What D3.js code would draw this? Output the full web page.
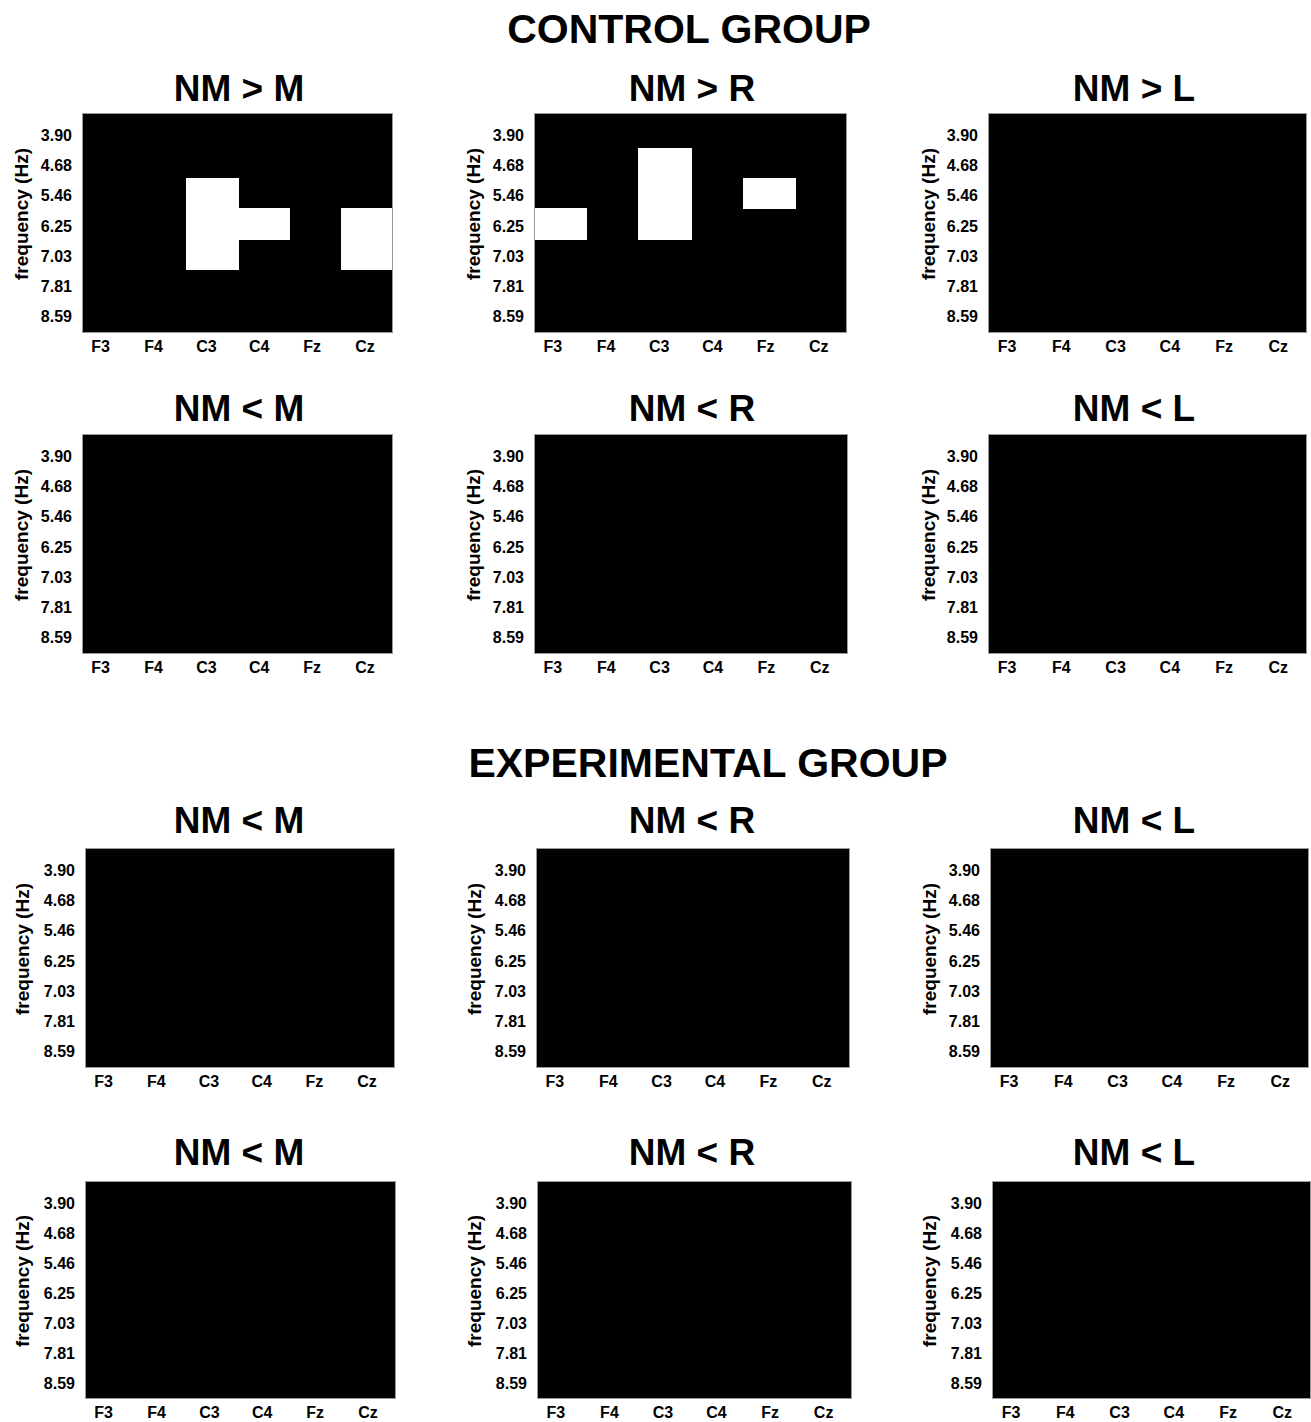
<!DOCTYPE html>
<html>
<head>
<meta charset="utf-8">
<script src="https://cdn.jsdelivr.net/npm/d3@7"></script>
<style>
  html, body { margin: 0; padding: 0; background: #fff; }
  text { font-family: "Liberation Sans", Arial, sans-serif; font-weight: bold; fill: #000; }
</style>
</head>
<body>
<svg id="chart" width="1311" height="1422"></svg>
<script>
// ---------- data ----------
const channels = ["F3", "F4", "C3", "C4", "Fz", "Cz"];
const frequencies = ["3.90", "4.68", "5.46", "6.25", "7.03", "7.81", "8.59"];
const groupTitles = ["CONTROL GROUP", "EXPERIMENTAL GROUP"];
const controlTitles = ["NM > M", "NM > R", "NM > L", "NM < M", "NM < R", "NM < L"];
const experimentalTitles = ["NM < M", "NM < R", "NM < L", "NM < M", "NM < R", "NM < L"];

// significant (white) cells: [channel, frequency]
const sigControlNMgtM = [["C3","5.46"],["C3","6.25"],["C3","7.03"],["C4","6.25"],["Cz","6.25"],["Cz","7.03"]];
const sigControlNMgtR = [["F3","6.25"],["C3","4.68"],["C3","5.46"],["C3","6.25"],["Fz","5.46"]];
const sigControlNMgtL = [];
const sigControlNMltM = [];
const sigControlNMltR = [];
const sigControlNMltL = [];
const sigExp1NMltM = [];
const sigExp1NMltR = [];
const sigExp1NMltL = [];
const sigExp2NMltM = [];
const sigExp2NMltR = [];
const sigExp2NMltL = [];

// ---------- layout ----------
const panelRows = [
  { titles: controlTitles.slice(0, 3), sig: [sigControlNMgtM, sigControlNMgtR, sigControlNMgtL],
    y0: 113, y1: 333, cols: [[82, 393], [534, 847], [988, 1307]], titleBase: 101 },
  { titles: controlTitles.slice(3, 6), sig: [sigControlNMltM, sigControlNMltR, sigControlNMltL],
    y0: 434, y1: 654, cols: [[82, 393], [534, 848], [988, 1307]], titleBase: 421 },
  { titles: experimentalTitles.slice(0, 3), sig: [sigExp1NMltM, sigExp1NMltR, sigExp1NMltL],
    y0: 848, y1: 1068, cols: [[85, 395], [536, 850], [990, 1309]], titleBase: 833 },
  { titles: experimentalTitles.slice(3, 6), sig: [sigExp2NMltM, sigExp2NMltR, sigExp2NMltL],
    y0: 1181, y1: 1399, cols: [[85, 396], [537, 852], [992, 1311]], titleBase: 1165 }
];
const titleCenters = [239, 692, 1134];
const ylabXs = [21, 473, 928];

const svg = d3.select("#chart");
const color = d3.scaleOrdinal().domain([0, 1]).range(["#000000", "#ffffff"]);

// group titles
svg.append("text").attr("x", 689).attr("y", 43).attr("text-anchor", "middle")
  .style("font-size", "41px").text(groupTitles[0]);
svg.append("text").attr("x", 708).attr("y", 777).attr("text-anchor", "middle")
  .style("font-size", "41px").text(groupTitles[1]);

panelRows.forEach(row => {
  row.cols.forEach((c, ci) => {
    const [x0, x1] = c;
    const y0 = row.y0, y1 = row.y1;
    const w = x1 - x0;
    const x = d3.scaleBand().domain(channels).range([x0, x1]);
    const y = d3.scaleBand().domain(frequencies).range([y0 + 4.5, y1 - 3.5]);
    const xl = d3.scalePoint().domain(channels).range([x0 + w * 0.06, x1 - w * 0.09]);

    const sigSet = new Set(row.sig[ci].map(d => d[0] + "|" + d[1]));
    const cells = [];
    channels.forEach(ch => frequencies.forEach(f => cells.push({ ch, f, v: sigSet.has(ch + "|" + f) ? 1 : 0 })));

    const g = svg.append("g");
    // background
    g.append("rect").attr("x", x0).attr("y", y0).attr("width", w).attr("height", y1 - y0)
      .attr("fill", "#000").attr("shape-rendering", "crispEdges");
    // cells (black first, then white on top)
    cells.sort((a, b) => a.v - b.v);
    g.selectAll("rect.cell").data(cells).enter().append("rect").attr("class", "cell")
      .attr("x", d => Math.round(x(d.ch))).attr("y", d => Math.round(y(d.f)))
      .attr("width", d => Math.round(x(d.ch) + x.bandwidth()) - Math.round(x(d.ch)) + (d.v ? 1 : 0))
      .attr("height", d => Math.round(y(d.f) + y.bandwidth()) - Math.round(y(d.f)) + (d.v ? 1 : 0))
      .attr("fill", d => color(d.v)).attr("shape-rendering", "crispEdges");
    // border
    g.append("rect").attr("x", x0 + 0.5).attr("y", y0 + 0.5).attr("width", w - 1).attr("height", y1 - y0 - 1)
      .attr("fill", "none").attr("stroke", "#9a9a9a").attr("stroke-width", 1);

    // y tick labels
    g.selectAll("text.yt").data(frequencies).enter().append("text").attr("class", "yt")
      .attr("x", x0 - 10).attr("y", d => y(d) + y.bandwidth() / 2 + 2.5)
      .attr("text-anchor", "end").attr("dominant-baseline", "central")
      .style("font-size", "16px").text(d => d);
    // x tick labels
    g.selectAll("text.xt").data(channels).enter().append("text").attr("class", "xt")
      .attr("x", d => xl(d)).attr("y", y1 + 19)
      .attr("text-anchor", "middle").style("font-size", "16px").text(d => d);
    // y axis label
    const cy = (y0 + y1) / 2 - 9;
    g.append("text").attr("transform", `translate(${ylabXs[ci] + (row.y0 > 800 ? 1 : 0)},${cy}) rotate(-90)`)
      .attr("text-anchor", "middle").attr("dominant-baseline", "central")
      .style("font-size", "19px").text("frequency (Hz)");
    // panel title
    g.append("text").attr("x", titleCenters[ci]).attr("y", row.titleBase)
      .attr("text-anchor", "middle").style("font-size", "37px").text(row.titles[ci]);
  });
});
</script>
</body>
</html>
